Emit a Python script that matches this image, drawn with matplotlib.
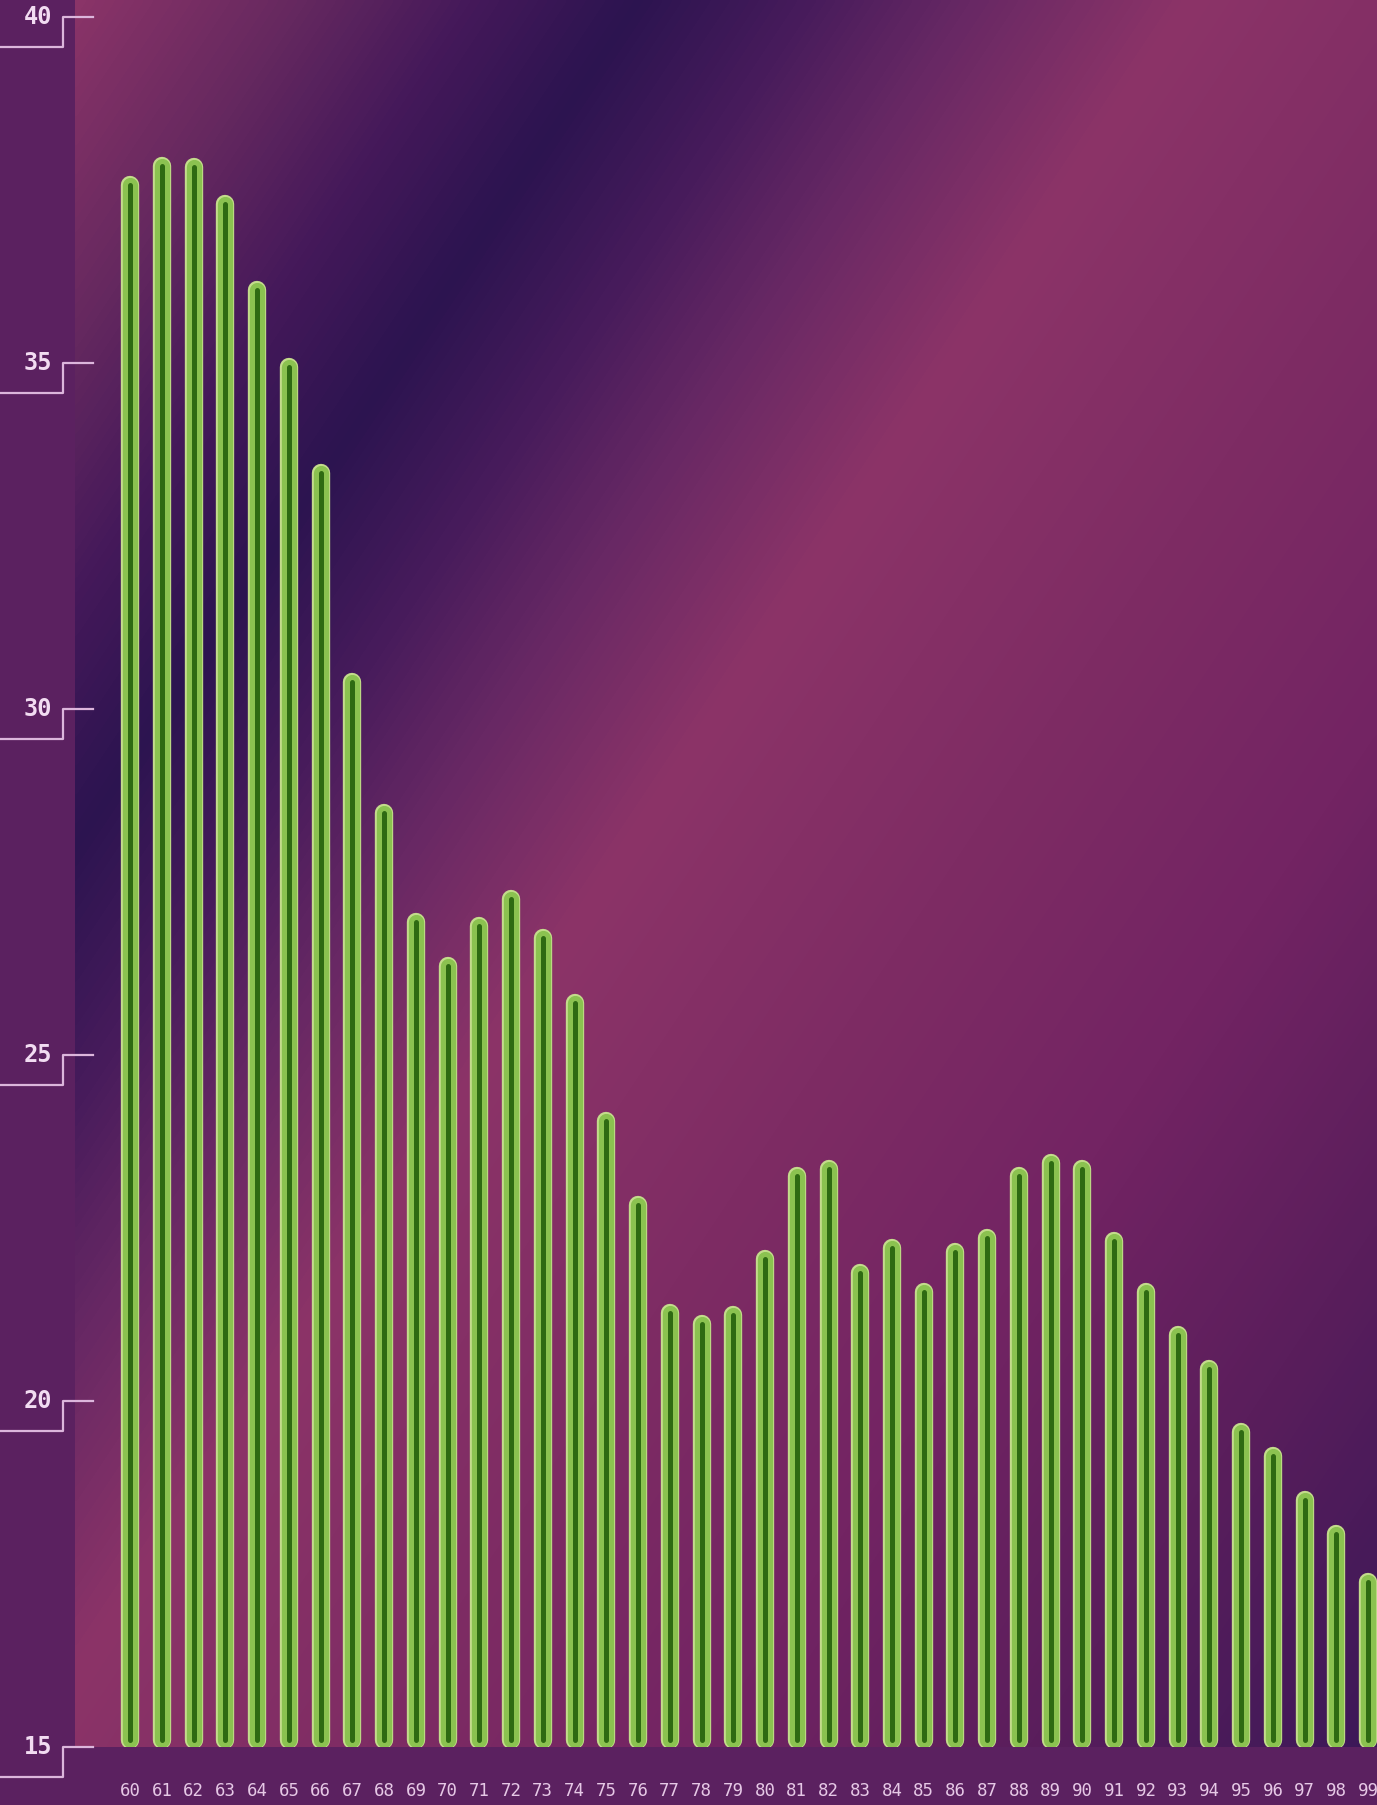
import numpy as np
import matplotlib
matplotlib.use("Agg")
import matplotlib.pyplot as plt
from matplotlib.colors import LinearSegmentedColormap
import matplotlib.transforms as mtransforms

# data: years 1960-1999 (two-digit labels) and bar values
years = list(range(60, 100))
values = [37.57, 37.85, 37.84, 37.30, 36.06, 34.95, 33.42, 30.39, 28.50, 26.92,
          26.29, 26.86, 27.26, 26.69, 25.76, 24.05, 22.83, 21.27, 21.12, 21.25,
          22.05, 23.26, 23.36, 21.85, 22.21, 21.58, 22.15, 22.35, 23.26, 23.44,
          23.36, 22.31, 21.57, 20.95, 20.46, 19.56, 19.21, 18.57, 18.08, 17.39]
year_labels = [f"{y:02d}" for y in years]
y_ticks = [15, 20, 25, 30, 35, 40]

panel = "#5b2160"
tick_col = "#dcb6dc"
text_col = "#f2dcf2"

W, H = 1377, 1805
fig = plt.figure(figsize=(W / 100, H / 100), dpi=100, facecolor=panel)
ax_left, ax_bottom = 75 / W, (H - 1747) / H
ax = fig.add_axes([ax_left, ax_bottom, 1 - ax_left, 1 - ax_bottom])

# diagonal gradient background
stops = [(112, "#8a3468"), (450, "#64285f"), (700, "#45195a"), (950, "#2c1450"),
         (1200, "#461b5b"), (1450, "#672864"), (1780, "#8c3468"), (2300, "#7e2c64"),
         (2800, "#732463"), (3300, "#5a1e5c"), (3812, "#3c1858")]
tmin, tmax = stops[0][0], stops[-1][0]
cmap = LinearSegmentedColormap.from_list(
    "bg", [((t - tmin) / (tmax - tmin), c) for t, c in stops])
gx = np.linspace(75, W, 400)
gy = np.linspace(0, 1747, 520)
X, Y = np.meshgrid(gx, gy)
T = (1.5 * X + Y - tmin) / (tmax - tmin)
ax.imshow(T, cmap=cmap, vmin=0, vmax=1, extent=[0, 1, 0, 1], transform=ax.transAxes,
          aspect="auto", origin="upper", interpolation="bicubic", zorder=0)

ax.set_xlim(58.26, 99.28)
ax.set_ylim(15, 40.25)

# bars as rounded green tubes
base = 15.1
for yr, v in zip(years, values):
    ax.plot([yr, yr], [base, v], color="#c4dc8c", lw=13.2, solid_capstyle="round", zorder=2)
    ax.plot([yr, yr], [base, v], color="#8bc250", lw=11.0, solid_capstyle="round", zorder=3)
    ax.plot([yr, yr], [base, v], color="#2e6a12", lw=3.6, solid_capstyle="round", zorder=4)

for s in ax.spines.values():
    s.set_visible(False)
ax.set_yticks([])
ax.set_xticks(years)
ax.set_xticklabels(year_labels, family="DejaVu Sans Mono", fontsize=12.5, color="#e6c8e6")
ax.tick_params(axis="x", length=0, pad=25)

# bracket-shaped y ticks
trans = mtransforms.blended_transform_factory(ax.transAxes, ax.transData)
drop = 30 / 69.2
xa = -12 / 1302
xb = 18 / 1302
xc = -75 / 1302
for t in y_ticks:
    ax.plot([xb, xa, xa, xc], [t, t, t - drop, t - drop], color=tick_col, lw=1.6,
            transform=trans, clip_on=False, zorder=5)
    ax.text(-23 / 1302, t, str(t), transform=trans, ha="right", va="center",
            family="DejaVu Sans Mono", fontweight="bold", fontsize=17, color=text_col)

fig.savefig("out.png", dpi=100, facecolor=panel)
